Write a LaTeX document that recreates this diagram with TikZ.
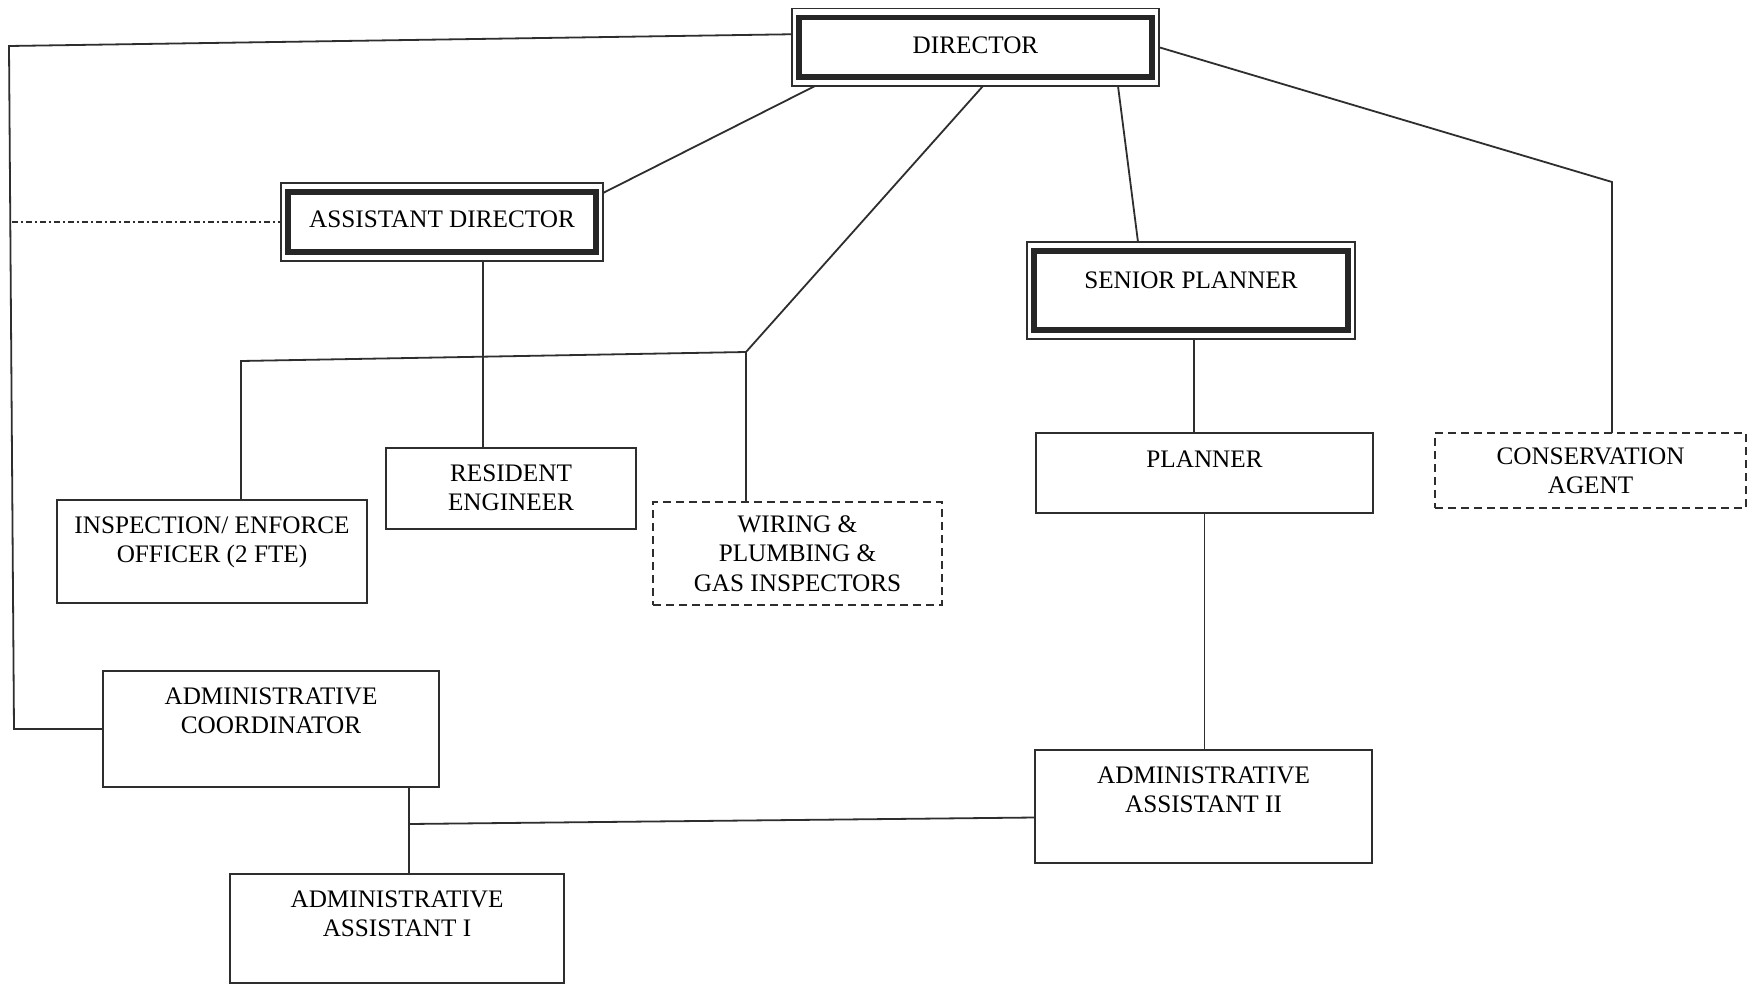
\documentclass[tikz,border=0pt]{standalone}
\usepackage{fontspec}
\setmainfont{Liberation Serif}
\usetikzlibrary{calc}

\definecolor{ink}{gray}{0.18}

% box label: width, height, space above first line, text (top aligned)
\newcommand{\orgtext}[4]{%
  \parbox[c][#2pt][t]{#1pt}{\centering\fontsize{25.2}{29.5}\selectfont
    \vspace*{#3pt}#4\par}}

\tikzset{
  orgbox/.style={draw=ink, line width=1.8pt, inner sep=0pt, outer sep=0pt, fill=white},
  dashbox/.style={orgbox, dash pattern=on 8pt off 5pt},
  headbox/.style={orgbox, line width=1.6pt},
  frame/.style={draw=black!85, line width=5.5pt},
  link/.style={draw=ink, line width=1.8pt},
  dotlink/.style={link, line width=1.6pt, dash pattern=on 6pt off 3pt on 2pt off 3pt},
}

\begin{document}
\begin{tikzpicture}[x=1pt, y=-1pt]
  \useasboundingbox[fill=white] (0,0) rectangle (1756,985);

  % positions
  \node[headbox] (dir) at (975.5,47.25) {\orgtext{367}{77.5}{28}{DIRECTOR}};
  \node[headbox] (ad)  at (442,222)     {\orgtext{322}{78}{27.5}{ASSISTANT DIRECTOR}};
  \node[headbox] (sp)  at (1191,290.5)  {\orgtext{328}{97}{29.5}{SENIOR PLANNER}};
  \node[orgbox]  (pl)  at (1204.5,473)  {\orgtext{337}{80}{17.5}{PLANNER}};
  \node[dashbox] (ca)  at (1590.5,470.5){\orgtext{311}{75}{14.5}{CONSERVATION\\AGENT}};
  \node[orgbox]  (re)  at (511,488.5)   {\orgtext{250}{81}{16.5}{RESIDENT\\ENGINEER}};
  \node[orgbox]  (io)  at (212,551.5)   {\orgtext{310}{103}{16.5}{INSPECTION/ ENFORCE\\OFFICER (2 FTE)}};
  \node[dashbox] (wp)  at (797.5,553.5) {\orgtext{289}{103}{13.5}{WIRING \&\\PLUMBING \&\\GAS INSPECTORS}};
  \node[orgbox]  (ac)  at (271,729)     {\orgtext{336}{116}{16.5}{ADMINISTRATIVE\\COORDINATOR}};
  \node[orgbox]  (a2)  at (1203.5,806.5){\orgtext{337}{113}{16.5}{ADMINISTRATIVE\\ASSISTANT II}};
  \node[orgbox]  (a1)  at (397,928.5)   {\orgtext{334}{109}{16.5}{ADMINISTRATIVE\\ASSISTANT I}};

  % heavy inner frames of the senior posts
  \foreach \n in {dir,ad,sp}
    \draw[frame] ([shift={(7pt,-9pt)}]\n.north west) rectangle ([shift={(-7pt,9pt)}]\n.south east);

  % bends and junctions
  \coordinate (tl) at (9,46);
  \coordinate (bl) at (14,729);
  \coordinate (dd) at (12,222);
  \coordinate (jl) at (241,361);
  \coordinate (jr) at (746,352);
  \coordinate (tr) at (1612,182);
  \coordinate (jb) at (409,824);
  \coordinate (adx) at ([xshift=41pt]ad.south);
  \coordinate (spx) at ([xshift=3pt]sp.south);
  \coordinate (acx) at ([xshift=138pt]ac.south);

  % reporting lines
  \draw[link] ([yshift=13pt]dir.west) -- (tl) -- (bl) -- (ac.west);
  \draw[dotlink] (dd) -- (ad.west);
  \draw[link] ([xshift=23pt]dir.south west) -- ([yshift=-10pt]ad.north east);
  \draw[link] ([xshift=7.5pt]dir.south) -- (jr) -- (jl) -- (jl |- io.north);
  \draw[link] (jr) -- (jr |- wp.north);
  \draw[link] (adx) -- (adx |- re.north);
  \draw[link] ([xshift=142.5pt]dir.south) -- ([xshift=-53pt]sp.north);
  \draw[link] (dir.east) -- (tr) -- (tr |- ca.north);
  \draw[link] (spx) -- (spx |- pl.north);
  \draw[link] (pl.south) -- (pl.south |- a2.north);
  \draw[link] (acx) -- (acx |- a1.north);
  \draw[link] (jb) -- ([yshift=-11pt]a2.west);
\end{tikzpicture}
\end{document}
